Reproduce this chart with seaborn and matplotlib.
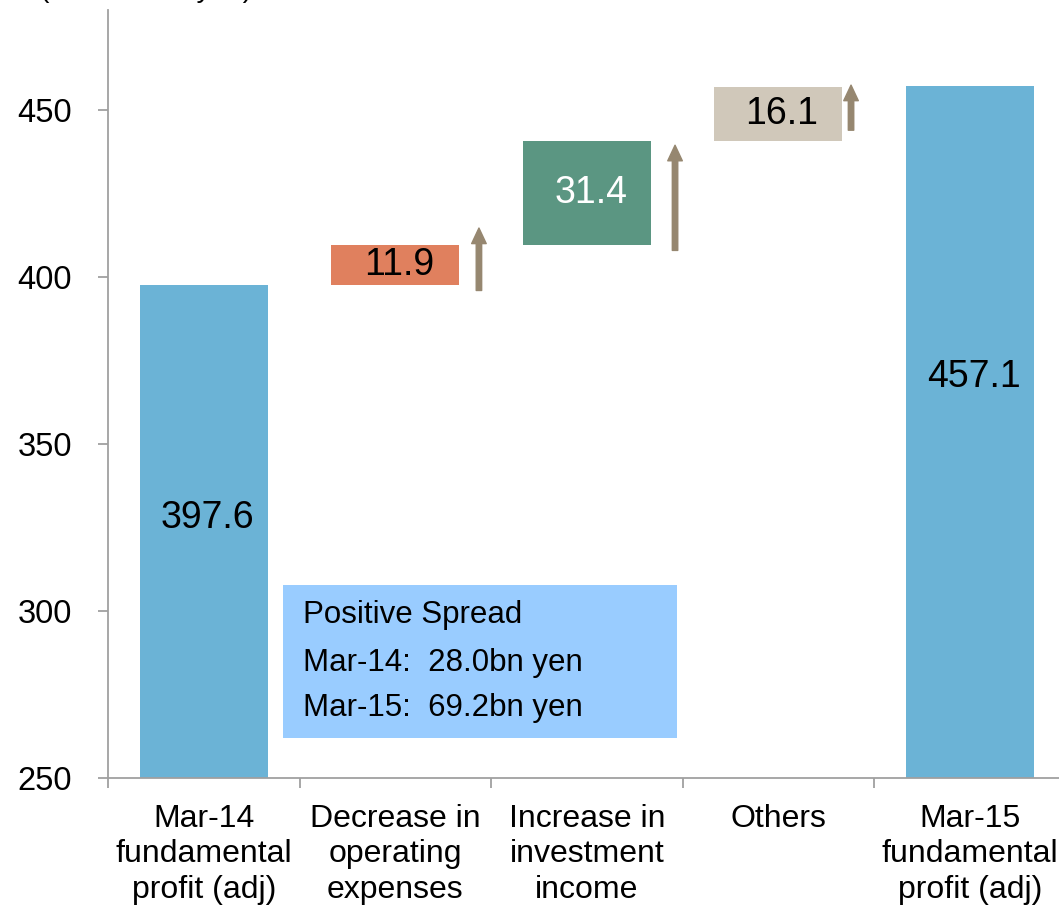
import matplotlib
matplotlib.use("Agg")
import matplotlib.pyplot as plt
from matplotlib.patches import Rectangle
import numpy as np
import pandas as pd
import seaborn as sns

# Waterfall data (billion yen)
categories = [
    "Mar-14\nfundamental\nprofit (adj)",
    "Decrease in\noperating\nexpenses",
    "Increase in\ninvestment\nincome",
    "Others",
    "Mar-15\nfundamental\nprofit (adj)",
]
values = [397.6, 11.9, 31.4, 16.1, 457.1]
is_total = [True, False, False, False, True]
bar_colors = ["#6BB3D6", "#E0805E", "#5B9682", "#D0C8BA", "#6BB3D6"]
label_colors = ["black", "black", "white", "black", "black"]

# Up-arrows beside the step bars: (x position, start, end)
arrow_x = [1.437, 2.461, 3.380]
arrow_start = [396.0, 408.0, 444.0]
arrow_end = [414.7, 439.5, 457.5]

spread_title = "Positive Spread"
spread_lines = ["Mar-14:  28.0bn yen", "Mar-15:  69.2bn yen"]
unit_label = "(Unit: billion yen)"

# Running base for the step bars
bases = []
running = 0.0
for v, tot in zip(values, is_total):
    if tot:
        bases.append(0.0)
        running = v
    else:
        bases.append(running)
        running += v
tops = [b + v for b, v in zip(bases, values)]

df = pd.DataFrame({"category": categories, "value": values, "base": bases})

sns.set_style("white")
plt.rcParams["font.family"] = ["Liberation Sans", "DejaVu Sans"]
plt.rcParams["text.color"] = "black"
plt.rcParams["xtick.labelcolor"] = "black"
plt.rcParams["ytick.labelcolor"] = "black"

fig = plt.figure(figsize=(10.59, 9.05), dpi=100)
ax = fig.add_axes([108 / 1059, 1 - 778 / 905, 1 - 108 / 1059, (778 - 10) / 905])

sns.barplot(data=df, x="category", y="value", bottom=df["base"].to_numpy(),
            order=categories, width=0.67, color=bar_colors[0], ax=ax,
            errorbar=None, linewidth=0, zorder=2)
for patch, c in zip(ax.patches, bar_colors):
    patch.set_facecolor(c)

ax.set_ylim(250, 480)
ax.set_xlim(-0.5, 4.466)

# Value labels
label_y = []
for b, t, tot in zip(bases, tops, is_total):
    label_y.append(None if tot else (b + t) / 2)
label_y[0] = 328.0
label_y[4] = 370.0
for i, v in enumerate(values):
    ax.text(i + 0.02, label_y[i], f"{v:.1f}", ha="center", va="center",
            fontsize=27, color=label_colors[i], zorder=4)

# Arrows
for xa, ys, ye in zip(arrow_x, arrow_start, arrow_end):
    ax.annotate("", xy=(xa, ye), xytext=(xa, ys),
                arrowprops=dict(arrowstyle="simple,head_length=0.8,head_width=0.75,tail_width=0.28",
                                color="#968770", shrinkA=0, shrinkB=0, mutation_scale=14),
                zorder=3)

# Positive spread box
ax.add_patch(Rectangle((0.414, 262.0), 2.471 - 0.414, 307.8 - 262.0,
                       facecolor="#99CCFF", edgecolor="none", zorder=3))
ax.text(0.518, 298.8, spread_title, ha="left", va="center", fontsize=22.5,
        color="black", zorder=4)
for yy, line in zip([284.4, 271.0], spread_lines):
    ax.text(0.518, yy, line, ha="left", va="center", fontsize=22.5,
            color="black", zorder=4)

# Axes styling
for side in ["top", "right"]:
    ax.spines[side].set_visible(False)
for side in ["left", "bottom"]:
    ax.spines[side].set_color("#A0A0A0")
    ax.spines[side].set_linewidth(1.3)

ax.set_yticks([250, 300, 350, 400, 450])
ax.tick_params(axis="y", direction="out", length=7, width=1.3, color="#A0A0A0",
               labelsize=23.5, pad=19, left=True, labelcolor="black")
ax.set_xticks([-0.5, 0.5, 1.5, 2.5, 3.5])
ax.set_xticklabels([])
ax.set_xticks(range(len(categories)), minor=True)
ax.set_xticklabels(categories, minor=True, fontsize=23, linespacing=1.22)
ax.tick_params(axis="x", which="major", direction="out", length=7, width=1.3,
               color="#A0A0A0", bottom=True)
ax.tick_params(axis="x", which="minor", length=0, pad=19, labelcolor="black")
ax.set_xlabel("")
ax.set_ylabel("")

# Unit caption sits at the very top edge of the figure
fig.text(40 / 1059, 1.0 + 3.0 / 905, unit_label, ha="left", va="baseline",
         fontsize=20.5, color="black")

fig.savefig("out.png", dpi=100)
